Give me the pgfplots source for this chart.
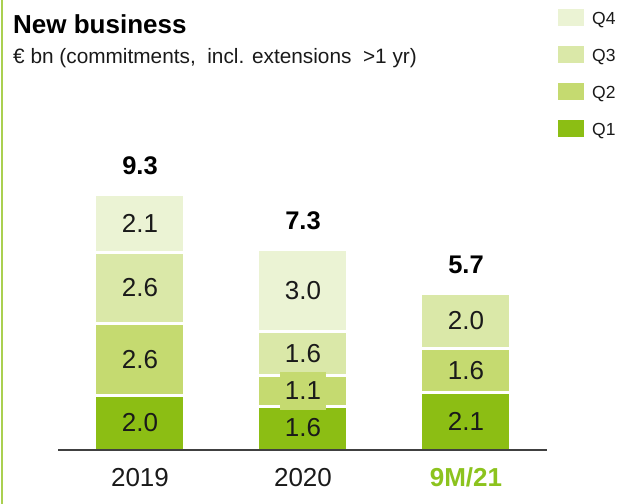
\documentclass[border=0pt]{standalone}
\usepackage{fontspec}
\setmainfont{Liberation Sans}
\usepackage{pgfplots}
\pgfplotsset{compat=1.18}

\definecolor{qone}{RGB}{140,190,20}
\definecolor{qtwo}{RGB}{197,218,112}
\definecolor{qthree}{RGB}{218,232,168}
\definecolor{qfour}{RGB}{235,243,212}
\definecolor{ninem}{RGB}{140,195,30}
\definecolor{frameline}{RGB}{170,208,80}
\definecolor{baseln}{RGB}{64,64,64}
\definecolor{txt}{RGB}{26,26,26}

\newcommand{\fs}[1]{\fontsize{#1bp}{#1bp}\selectfont}

\pgfplotsset{
  qbar/.style={fill=#1, draw=white, line width=3bp,
    legend image code/.code={\path[fill=#1] (0bp,-9bp) rectangle (29bp,11bp);},
    nodes near coords, point meta=explicit symbolic,
    nodes near coords align={center},
    every node near coord/.style={font=\fs{26}, text=txt}},
  frame/.style={at={(58bp,-450bp)}, anchor=south west,
    scale only axis, width=489bp, height=275bp,
    xmin=-0.503, xmax=2.497, ymin=0, ymax=10,
    bar width=90bp, clip=false},
}

\begin{document}
\begin{tikzpicture}
\path[use as bounding box] (0,0) rectangle (622bp,-504bp);
\draw[frameline, line width=2bp] (2bp,0) -- (2bp,-504bp);
\node[anchor=base west, inner sep=0pt, text=black] at (13bp,-33bp) {\fs{26}\bfseries New business};
\node[anchor=base west, inner sep=0pt, text=txt] at (13bp,-63bp) {\fs{20.8}€ bn (commitments,\ \ incl. extensions\ \ >1 yr)};

\begin{axis}[
  frame, ybar stacked, axis on top,
  axis x line*=bottom, axis y line=none,
  axis line style={-, baseln, line width=1.8bp},
  xtick={0,1,2}, ytick=\empty,
  xticklabels={2019,2020,{\textcolor{ninem}{\bfseries 9M/21}}},
  major tick length=0pt,
  xticklabel style={anchor=base, yshift=-36bp, font=\fs{26}, text=txt},
  legend style={draw=none, fill=none, at={(axis description cs:1.0164,1.6145)},
    anchor=north west, inner sep=0pt, font=\fs{17.5}, text=txt,
    row sep=14bp, column sep=3bp},
  legend cell align=left,
  reverse legend,
]
\addplot[qbar=qone] coordinates {(0,2.0) [2.0] (1,1.6) [1.6] (2,2.1) [2.1]};
\addlegendentry{Q1}
\addplot[qbar=qtwo, every node near coord/.append style={fill=qtwo, inner xsep=5bp, inner ysep=10bp}]
  coordinates {(0,2.6) [2.6] (1,1.1) [1.1] (2,1.6) [1.6]};
\addlegendentry{Q2}
\addplot[qbar=qthree] coordinates {(0,2.6) [2.6] (1,1.6) [1.6] (2,2.0) [2.0]};
\addlegendentry{Q3}
\addplot[qbar=qfour] coordinates {(0,2.1) [2.1] (1,3.0) [3.0] (2,0) [{}]};
\addlegendentry{Q4}
\end{axis}

% totals above each stack
\begin{axis}[frame, ybar, bar shift=0pt, hide axis]
\addplot[draw=none, fill=none, nodes near coords, point meta=explicit symbolic,
  nodes near coords align={south},
  every node near coord/.style={inner sep=0pt, yshift=19bp, font=\fs{25.5}\bfseries, text=black}]
  coordinates {(0,9.3) [9.3] (1,7.3) [7.3] (2,5.7) [5.7]};
\end{axis}
\end{tikzpicture}
\end{document}
